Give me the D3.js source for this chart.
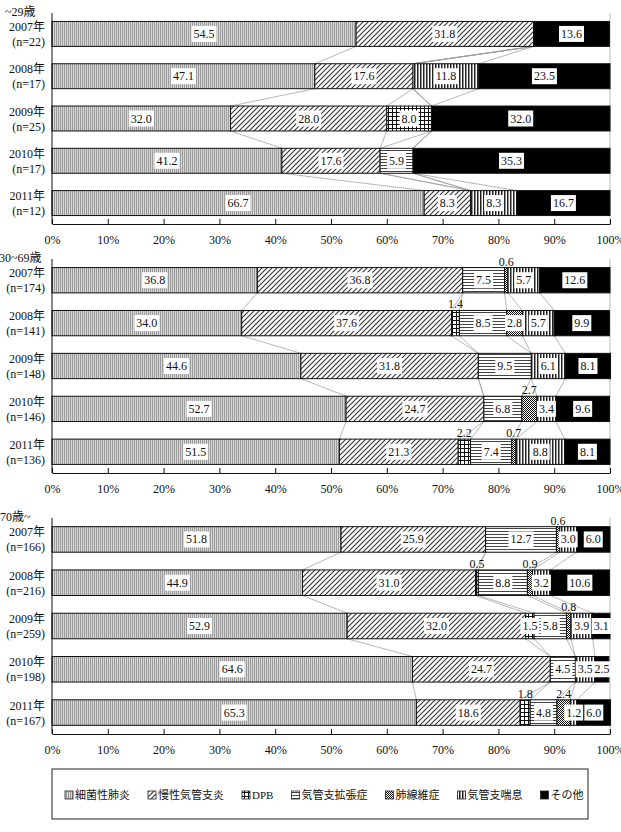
<!DOCTYPE html>
<html>
<head>
<meta charset="utf-8">
<script src="https://cdn.jsdelivr.net/npm/d3@7"></script>
<style>
    body { margin: 0; background: #fff; }
    svg text { font-family: "Liberation Serif", "Times New Roman", "Noto Sans CJK JP", serif; fill: #111; }
</style>
</head>
<body>
<svg id="chart" width="621" height="832"></svg>
<script>
const categories = ["細菌性肺炎", "慢性気管支炎", "DPB", "気管支拡張症", "肺線維症", "気管支喘息", "その他"];
const ageGroups = ["~29歳", "30~69歳", "70歳~"];
const years = ["2007年", "2008年", "2009年", "2010年", "2011年"];

const counts29 = [22, 17, 25, 17, 12];
const counts3069 = [174, 141, 148, 146, 136];
const counts70 = [166, 216, 259, 198, 167];

// one row per year, values in the order of categories (%)
const values29 = [
    [54.5, 31.8, 0, 0, 0, 0, 13.6],
    [47.1, 17.6, 0, 0, 0, 11.8, 23.5],
    [32.0, 28.0, 8.0, 0, 0, 0, 32.0],
    [41.2, 17.6, 0, 5.9, 0, 0, 35.3],
    [66.7, 8.3, 0, 0, 0, 8.3, 16.7]
];
const values3069 = [
    [36.8, 36.8, 0, 7.5, 0.6, 5.7, 12.6],
    [34.0, 37.6, 1.4, 8.5, 2.8, 5.7, 9.9],
    [44.6, 31.8, 0, 9.5, 0, 6.1, 8.1],
    [52.7, 24.7, 0, 6.8, 2.7, 3.4, 9.6],
    [51.5, 21.3, 2.2, 7.4, 0.7, 8.8, 8.1]
];
const values70 = [
    [51.8, 25.9, 0, 12.7, 0.6, 3.0, 6.0],
    [44.9, 31.0, 0.5, 8.8, 0.9, 3.2, 10.6],
    [52.9, 32.0, 1.5, 5.8, 0.8, 3.9, 3.1],
    [64.6, 24.7, 0, 4.5, 0, 3.5, 2.5],
    [65.3, 18.6, 1.8, 4.8, 2.4, 1.2, 6.0]
];

// small values whose label sits above the bar instead of in a box
const labelsAbove = [
    "30~69歳|2007年|肺線維症", "30~69歳|2008年|DPB", "30~69歳|2010年|肺線維症",
    "30~69歳|2011年|DPB", "30~69歳|2011年|肺線維症",
    "70歳~|2007年|肺線維症", "70歳~|2008年|DPB", "70歳~|2008年|肺線維症",
    "70歳~|2009年|肺線維症", "70歳~|2011年|DPB", "70歳~|2011年|肺線維症"
];

const xTicks = [0, 10, 20, 30, 40, 50, 60, 70, 80, 90, 100];

const panels = [
    { title: ageGroups[0], counts: counts29, values: values29, top: 13, bottom: 224, titleX: 5 },
    { title: ageGroups[1], counts: counts3069, values: values3069, top: 259, bottom: 473, titleX: -1 },
    { title: ageGroups[2], counts: counts70, values: values70, top: 518, bottom: 734, titleX: 0 }
];

const svg = d3.select("#chart");
const x = d3.scaleLinear().domain([0, 100]).range([52, 610]);
const fmt = d3.format(".1f");

function addPatterns() {
    const defs = svg.append("defs");
    const pat = (id, w, h) => defs.append("pattern")
        .attr("id", id).attr("patternUnits", "userSpaceOnUse")
        .attr("width", w).attr("height", h);

    let p = pat("pat0", 2, 2);
    p.append("rect").attr("width", 2).attr("height", 2).attr("fill", "#d6d6d6");
    p.append("rect").attr("width", 1).attr("height", 2).attr("fill", "#9c9c9c");

    p = pat("pat1", 5, 5);
    p.append("rect").attr("width", 5).attr("height", 5).attr("fill", "#fff");
    p.append("path").attr("d", "M0,5 L5,0 M-1,1 L1,-1 M4,6 L6,4")
        .attr("stroke", "#333").attr("stroke-width", 1.1);

    p = pat("pat2", 4, 4);
    p.append("rect").attr("width", 4).attr("height", 4).attr("fill", "#fff");
    p.append("path").attr("d", "M0,0.5 H4 M0.5,0 V4").attr("stroke", "#111").attr("stroke-width", 1);

    p = pat("pat3", 3, 3);
    p.append("rect").attr("width", 3).attr("height", 3).attr("fill", "#fff");
    p.append("rect").attr("width", 3).attr("height", 1).attr("fill", "#444");

    p = pat("pat4", 2, 2);
    p.append("rect").attr("width", 2).attr("height", 2).attr("fill", "#fff");
    p.append("rect").attr("width", 1).attr("height", 1).attr("fill", "#111");
    p.append("rect").attr("x", 1).attr("y", 1).attr("width", 1).attr("height", 1).attr("fill", "#111");

    p = pat("pat5", 3, 3);
    p.append("rect").attr("width", 3).attr("height", 3).attr("fill", "#fff");
    p.append("rect").attr("width", 1.5).attr("height", 3).attr("fill", "#222");
}

const fills = categories.map((c, i) => i === categories.length - 1 ? "#000" : `url(#pat${i})`);

function drawPanel(panel) {
    const y = d3.scaleBand().domain(years)
        .range([panel.top, panel.bottom])
        .paddingInner(0.41).paddingOuter(0.2);
    const g = svg.append("g");

    const rows = panel.values.map((vals, i) => {
        const stack = d3.cumsum(vals);
        return {
            year: years[i],
            segs: vals.map((v, k) => ({ cat: categories[k], k, v, x0: stack[k] - v, x1: stack[k] }))
        };
    });

    // series lines between bars
    for (let i = 0; i < rows.length - 1; i++) {
        const yb = y(rows[i].year) + y.bandwidth();
        const yt = y(rows[i + 1].year);
        rows[i].segs.slice(0, -1).forEach((s, k) => {
            g.append("line")
                .attr("x1", x(s.x1)).attr("y1", yb)
                .attr("x2", x(rows[i + 1].segs[k].x1)).attr("y2", yt)
                .attr("stroke", "#9a9a9a").attr("stroke-width", 0.7);
        });
    }

    // right edge of the plot area
    g.append("line")
        .attr("x1", x(100)).attr("x2", x(100))
        .attr("y1", panel.top).attr("y2", panel.bottom)
        .attr("stroke", "#bbb");

    rows.forEach(row => {
        const bar = g.append("g");
        bar.selectAll("rect")
            .data(row.segs.filter(s => s.v > 0))
            .join("rect")
            .attr("x", s => x(s.x0))
            .attr("width", s => x(s.x1) - x(s.x0))
            .attr("y", y(row.year))
            .attr("height", y.bandwidth())
            .attr("fill", s => fills[s.k])
            .attr("stroke", "#111")
            .attr("stroke-width", 1);

        row.segs.filter(s => s.v > 0).forEach(s => {
            const cx = x((s.x0 + s.x1) / 2);
            const key = `${panel.title}|${row.year}|${s.cat}`;
            if (labelsAbove.includes(key)) {
                g.append("text")
                    .attr("x", cx).attr("y", y(row.year) - 2)
                    .attr("text-anchor", "middle")
                    .style("font-size", "12px")
                    .text(fmt(s.v));
                return;
            }
            const cy = y(row.year) + y.bandwidth() / 2;
            const box = g.append("rect").attr("fill", "#fff");
            const t = g.append("text")
                .attr("x", cx).attr("y", cy + 4)
                .attr("text-anchor", "middle")
                .style("font-size", "12px")
                .text(fmt(s.v));
            const w = t.node().getComputedTextLength() + 4;
            box.attr("x", cx - w / 2).attr("width", w)
                .attr("y", cy - 8).attr("height", 16);
        });
    });

    // category labels
    years.forEach((yr, i) => {
        const cy = y(yr) + y.bandwidth() / 2;
        g.append("text").attr("x", 45).attr("y", cy - 3)
            .attr("text-anchor", "end").style("font-size", "12px").text(yr);
        g.append("text").attr("x", 45).attr("y", cy + 12)
            .attr("text-anchor", "end").style("font-size", "12px").text(`(n=${panel.counts[i]})`);
    });

    g.append("text")
        .attr("x", panel.titleX).attr("y", panel.top + 3)
        .style("font-size", "12px")
        .text(panel.title);

    g.append("line")
        .attr("x1", x(0)).attr("x2", x(0))
        .attr("y1", panel.top).attr("y2", panel.bottom)
        .attr("stroke", "#111");

    const axis = g.append("g")
        .attr("transform", `translate(0,${panel.bottom})`)
        .call(d3.axisBottom(x).tickValues(xTicks)
            .tickSizeInner(-5).tickSizeOuter(0).tickPadding(11)
            .tickFormat(d => d + "%"));
    axis.selectAll("path, line").attr("stroke", "#111");
    axis.selectAll("text").style("font-size", "12px")
        .style("font-family", "\"Liberation Serif\", serif").attr("fill", "#111");
}

function drawLegend() {
    const lg = svg.append("g");
    lg.append("rect")
        .attr("x", 52).attr("y", 769).attr("width", 536).attr("height", 50)
        .attr("fill", "#fff").attr("stroke", "#222").attr("stroke-width", 1);
    let cx = 65;
    categories.forEach((c, i) => {
        lg.append("rect")
            .attr("x", cx).attr("y", 791).attr("width", 8).attr("height", 8)
            .attr("fill", fills[i]).attr("stroke", "#222").attr("stroke-width", 0.8);
        const t = lg.append("text")
            .attr("x", cx + 10).attr("y", 799)
            .style("font-size", "11px")
            .text(c);
        cx += 10 + t.node().getComputedTextLength() + 18;
    });
}

addPatterns();
panels.forEach(drawPanel);
drawLegend();
</script>
</body>
</html>
